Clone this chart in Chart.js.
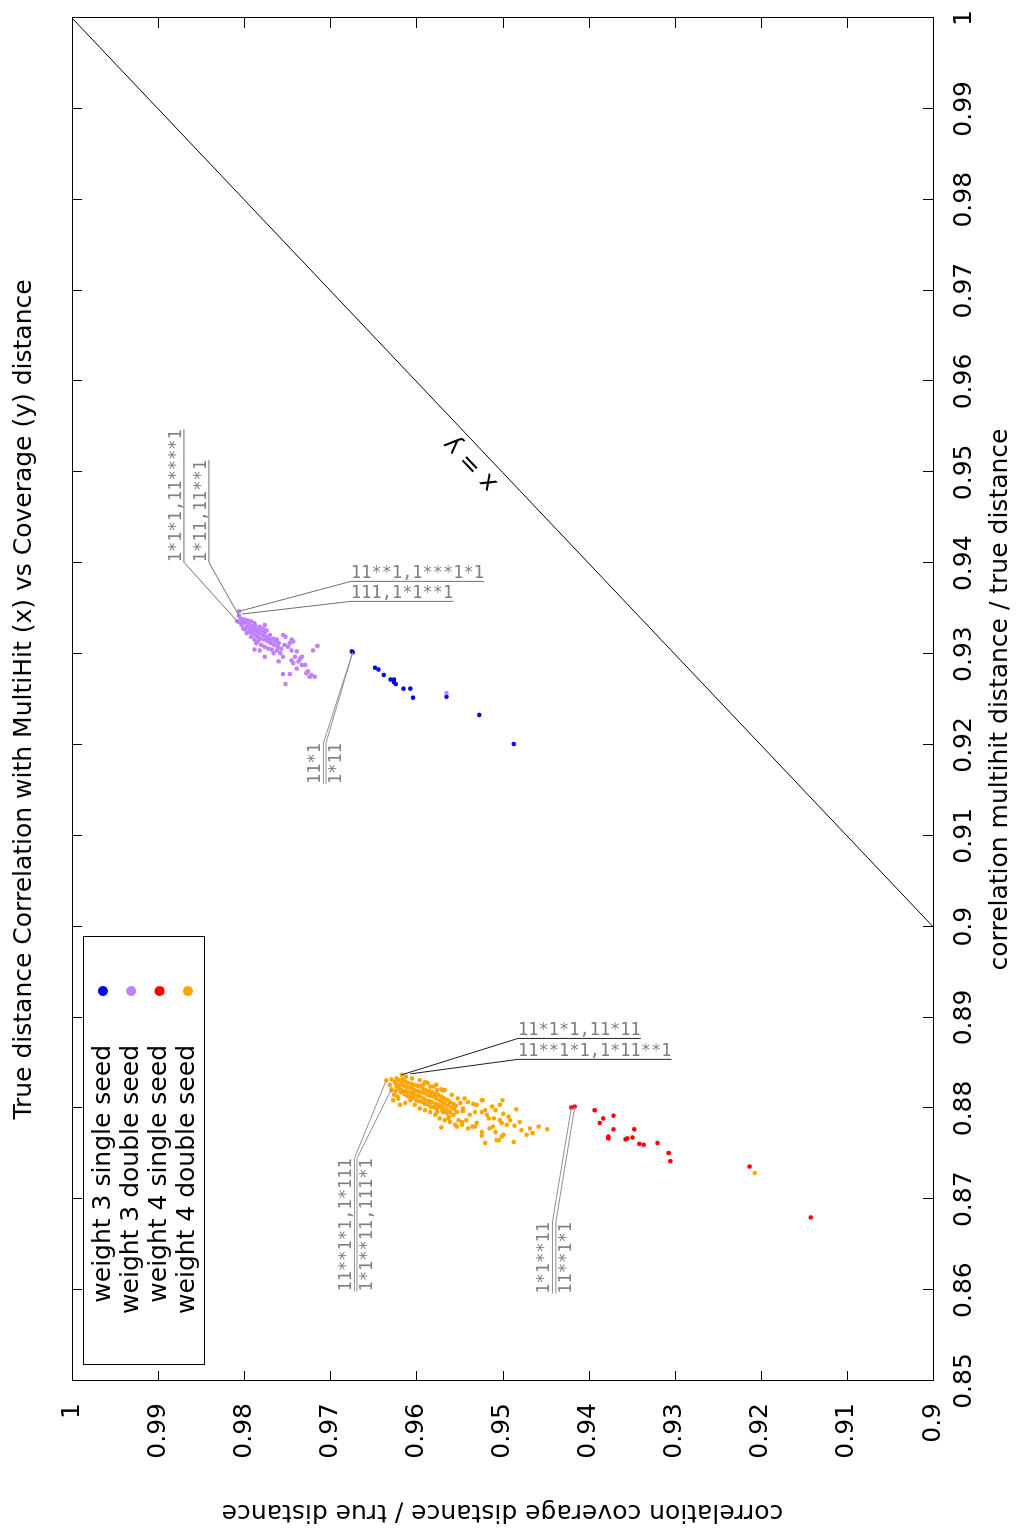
<!DOCTYPE html>
<html>
<head>
<meta charset="utf-8">
<script src="https://cdn.jsdelivr.net/npm/chart.js@4.4.1/dist/chart.umd.min.js"></script>
<style>
html, body { margin: 0; padding: 0; overflow: hidden; background: #fff; width: 1018px; height: 1528px; }
/* the plot is drawn landscape and turned a quarter turn, like the reference */
#wrap { position: absolute; left: 0; top: 0; width: 1528px; height: 1018px;
        transform-origin: 0 0; transform: translateY(1528px) rotate(-90deg); }
</style>
</head>
<body>
<div id="wrap"><canvas id="myChart" width="1528" height="1018"></canvas></div>
<script>
// series: [multihit ratio (x), coverage ratio (y)]
const w3Single = [
  [0.9302,0.9674],[0.9303,0.9675],[0.9285,0.9648],[0.9283,0.9644],[0.9277,0.9638],[0.9272,0.9630],
  [0.9272,0.9626],[0.9269,0.9626],[0.9267,0.9624],[0.9262,0.9615],[0.9262,0.9607],[0.9252,0.9604],
  [0.9253,0.9565],[0.9233,0.9527],[0.9201,0.9487]
];
const w3Double = [
  [0.9347,0.9806],[0.9342,0.9806],[0.9336,0.9808],[0.9339,0.9804],[0.9337,0.9802],[0.9334,0.9801],
  [0.9338,0.9800],[0.9335,0.9798],[0.9332,0.9803],[0.9330,0.9797],[0.9327,0.9799],[0.9333,0.9795],
  [0.9328,0.9793],[0.9325,0.9794],[0.9331,0.9791],[0.9327,0.9789],[0.9323,0.9791],[0.9334,0.9788],
  [0.9328,0.9788],[0.9325,0.9786],[0.9321,0.9787],[0.9327,0.9784],[0.9319,0.9784],[0.9323,0.9782],
  [0.9317,0.9781],[0.9326,0.9780],[0.9321,0.9778],[0.9316,0.9777],[0.9324,0.9776],[0.9319,0.9774],
  [0.9314,0.9773],[0.9317,0.9772],[0.9321,0.9770],[0.9312,0.9769],[0.9316,0.9768],[0.9317,0.9766],
  [0.9310,0.9765],[0.9314,0.9764],[0.9316,0.9762],[0.9308,0.9761],[0.9312,0.9760],[0.9314,0.9784],
  [0.9316,0.9788],[0.9310,0.9780],[0.9308,0.9776],[0.9306,0.9772],[0.9323,0.9797],[0.9319,0.9792],
  [0.9312,0.9786],[0.9328,0.9801],[0.9335,0.9805],[0.9337,0.9796],[0.9336,0.9792],[0.9331,0.9787],
  [0.9330,0.9782],[0.9328,0.9778],[0.9326,0.9774],[0.9332,0.9776],
  [0.9321,0.9755],[0.9319,0.9752],[0.9316,0.9745],[0.9312,0.9747],[0.9310,0.9753],[0.9314,0.9743],
  [0.9308,0.9749],[0.9304,0.9762],[0.9301,0.9766],[0.9301,0.9758],[0.9297,0.9755],[0.9292,0.9760],
  [0.9297,0.9776],[0.9305,0.9788],[0.9304,0.9782],[0.9304,0.9745],[0.9303,0.9739],[0.9297,0.9741],
  [0.9295,0.9735],[0.9293,0.9745],[0.9290,0.9743],[0.9292,0.9737],[0.9288,0.9733],[0.9284,0.9739],
  [0.9288,0.9729],[0.9281,0.9726],[0.9279,0.9728],[0.9277,0.9722],[0.9275,0.9718],[0.9275,0.9724],
  [0.9304,0.9720],[0.9309,0.9715],[0.9278,0.9755],[0.9278,0.9747],[0.9267,0.9752],[0.9297,0.9733],
  [0.9306,0.9757],[0.9305,0.9768],[0.9257,0.9565]
];
const w4Single = [
  [0.8801,0.9420],[0.8802,0.9416],[0.8798,0.9393],[0.8789,0.9383],[0.8784,0.9387],[0.8792,0.9371],
  [0.8777,0.9371],[0.8769,0.9377],[0.8767,0.9377],[0.8777,0.9347],[0.8768,0.9349],[0.8767,0.9355],
  [0.8766,0.9357],[0.8761,0.9341],[0.8760,0.9336],[0.8762,0.9320],[0.8751,0.9307],[0.8742,0.9305],
  [0.8736,0.9213],[0.8680,0.9142]
];
const w4Double = [
  [0.8831,0.9635],[0.8832,0.9629],[0.8829,0.9625],[0.8837,0.9617],[0.8835,0.9612],[0.8821,0.9629],
  [0.8815,0.9626],[0.8811,0.9621],[0.8826,0.9631],[0.8833,0.9623],[0.8832,0.9616],
  [0.8828,0.9624],[0.8824,0.9623],[0.8819,0.9624],[0.8831,0.9620],[0.8826,0.9619],[0.8822,0.9620],
  [0.8818,0.9618],[0.8829,0.9617],[0.8825,0.9615],[0.8820,0.9617],[0.8816,0.9614],[0.8830,0.9613],
  [0.8824,0.9612],[0.8819,0.9613],[0.8814,0.9611],[0.8828,0.9610],[0.8823,0.9609],[0.8818,0.9610],
  [0.8813,0.9607],[0.8827,0.9606],[0.8822,0.9605],[0.8817,0.9606],[0.8812,0.9604],[0.8826,0.9603],
  [0.8820,0.9602],[0.8816,0.9603],[0.8809,0.9600],[0.8825,0.9599],[0.8819,0.9598],[0.8814,0.9599],
  [0.8808,0.9597],[0.8824,0.9596],[0.8818,0.9595],[0.8813,0.9596],[0.8807,0.9593],[0.8821,0.9592],
  [0.8817,0.9591],[0.8811,0.9592],[0.8805,0.9590],[0.8820,0.9589],[0.8815,0.9587],[0.8809,0.9589],
  [0.8804,0.9586],[0.8819,0.9585],[0.8814,0.9584],[0.8808,0.9585],[0.8802,0.9583],[0.8818,0.9582],
  [0.8813,0.9580],[0.8807,0.9582],[0.8801,0.9579],[0.8816,0.9578],[0.8811,0.9577],[0.8805,0.9578],
  [0.8800,0.9576],[0.8815,0.9575],[0.8809,0.9573],[0.8804,0.9575],[0.8813,0.9571],[0.8807,0.9570],
  [0.8802,0.9571],[0.8796,0.9569],[0.8811,0.9568],[0.8805,0.9567],[0.8800,0.9568],[0.8809,0.9564],
  [0.8803,0.9563],[0.8798,0.9564],[0.8807,0.9561],[0.8801,0.9559],[0.8796,0.9561],[0.8805,0.9557],
  [0.8799,0.9556],[0.8793,0.9557],[0.8803,0.9554],[0.8796,0.9553],
  [0.8820,0.9576],[0.8821,0.9571],[0.8826,0.9592],[0.8824,0.9584],[0.8820,0.9569],[0.8825,0.9594],
  [0.8824,0.9580],[0.8809,0.9627],[0.8813,0.9622],[0.8820,0.9629],[0.8782,0.9555],[0.8785,0.9547],
  [0.8791,0.9562],[0.8795,0.9565],[0.8798,0.9570],[0.8796,0.9576],[0.8802,0.9572],
  [0.8809,0.9607],[0.8804,0.9602],[0.8800,0.9596],[0.8798,0.9590],[0.8806,0.9613],[0.8796,0.9584],
  [0.8793,0.9578],[0.8789,0.9573],[0.8787,0.9567],[0.8785,0.9561],[0.8831,0.9596],[0.8828,0.9587],
  [0.8826,0.9577],[0.8820,0.9567],[0.8815,0.9559],[0.8811,0.9552],[0.8804,0.9619],[0.8833,0.9605],
  [0.8829,0.9590],[0.8789,0.9563],
  [0.8779,0.9571],[0.8806,0.9549],[0.8800,0.9546],[0.8811,0.9544],[0.8807,0.9540],[0.8805,0.9534],
  [0.8787,0.9542],[0.8793,0.9538],[0.8796,0.9532],[0.8804,0.9530],[0.8796,0.9524],[0.8798,0.9520],
  [0.8793,0.9518],[0.8789,0.9516],[0.8789,0.9510],[0.8802,0.9512],[0.8798,0.9508],[0.8809,0.9523],
  [0.8804,0.9503],[0.8809,0.9500],[0.8799,0.9484],[0.8794,0.9499],[0.8791,0.9493],[0.8785,0.9480],
  [0.8787,0.9491],[0.8787,0.9503],[0.8784,0.9501],[0.8782,0.9495],[0.8781,0.9486],[0.8776,0.9478],
  [0.8778,0.9468],[0.8773,0.9465],[0.8771,0.9472],[0.8780,0.9458],[0.8777,0.9448],[0.8763,0.9487],
  [0.8771,0.9499],[0.8769,0.9501],[0.8765,0.9507],[0.8762,0.9520],[0.8770,0.9524],[0.8774,0.9524],
  [0.8780,0.9532],[0.8780,0.9535],[0.8784,0.9530],[0.8778,0.9515],[0.8780,0.9511],[0.8774,0.9508],
  [0.8797,0.9546],[0.8787,0.9551],[0.8782,0.9547],[0.8780,0.9553],[0.8778,0.9540],[0.8765,0.9504],
  [0.8809,0.9524],[0.8729,0.9207]
];
const seriesNames = ['weight 3 single seed', 'weight 3 double seed', 'weight 4 single seed', 'weight 4 double seed'];
const seriesColors = ['#0000ff', '#c080ff', '#ff0000', '#ffa500'];
const diagonal = [[0.9, 0.9], [1, 1]];

// seed labels: text, the point it names, where its underline starts
const noteTexts = ['1*1*1,11****1', '1*11,11**1', '11**1,1***1*1', '111,1*1**1', '11*1', '1*11',
  '11**1*1,1*111', '1*1**11,111*1', '1*1**11', '11**1*1', '11*1*1,11*11', '11**1*1,1*11**1'];
const noteTargets = [[0.9336,0.9808],[0.9342,0.9806],[0.9347,0.9806],[0.9344,0.9803],[0.9302,0.9674],[0.9302,0.9674],
  [0.8831,0.9635],[0.8821,0.9629],[0.8801,0.9420],[0.8802,0.9416],[0.8837,0.9617],[0.8838,0.9607]];
const noteAnchors = [[0.9401,0.9870],[0.9401,0.9841],[0.9380,0.9676],[0.9358,0.9676],[0.9202,0.9708],[0.9202,0.9705],
  [0.8745,0.9672],[0.8745,0.9669],[0.8675,0.9442],[0.8675,0.9438],[0.8877,0.9482],[0.8854,0.9482]];
// how each label sits: along (h) or across (v), which way it runs, which side of its line
const noteStyles = [
  {dir:'h', run:1, side:'above', line:'#707070'}, {dir:'h', run:1, side:'above', line:'#707070'},
  {dir:'v', run:1, side:'above', line:'#707070'}, {dir:'v', run:1, side:'above', line:'#707070'},
  {dir:'h', run:-1, side:'above', line:'#909090'}, {dir:'h', run:-1, side:'below', line:'#909090'},
  {dir:'h', run:-1, side:'above', line:'#909090'}, {dir:'h', run:-1, side:'below', line:'#909090'},
  {dir:'h', run:-1, side:'above', line:'#909090'}, {dir:'h', run:-1, side:'below', line:'#909090'},
  {dir:'v', run:1, side:'above', line:'#202020'}, {dir:'v', run:1, side:'above', line:'#202020'}
];

const toPts = arr => arr.map(p => ({x: p[0], y: p[1]}));
const fmt = v => String(Math.round(v * 100) / 100);

// gnuplot style frame with inward ticks on all four sides
const frame = {
  id: 'frame',
  afterDatasetsDraw(chart) {
    const {ctx, chartArea: a, scales: {x, y}} = chart;
    ctx.save();
    ctx.strokeStyle = '#000';
    ctx.lineWidth = 1;
    ctx.beginPath();
    x.ticks.forEach(t => {
      const px = Math.round(x.getPixelForValue(t.value)) + 0.5;
      ctx.moveTo(px, a.bottom); ctx.lineTo(px, a.bottom - 10);
      ctx.moveTo(px, a.top); ctx.lineTo(px, a.top + 10);
    });
    y.ticks.forEach(t => {
      const py = Math.round(y.getPixelForValue(t.value)) + 0.5;
      ctx.moveTo(a.left, py); ctx.lineTo(a.left + 10, py);
      ctx.moveTo(a.right, py); ctx.lineTo(a.right - 10, py);
    });
    ctx.stroke();
    ctx.strokeRect(Math.round(a.left) + 0.5, Math.round(a.top) + 0.5,
                   Math.round(a.right - a.left), Math.round(a.bottom - a.top));
    ctx.restore();
  }
};

// seed labels with their leader lines
const notes = {
  id: 'notes',
  afterDatasetsDraw(chart) {
    const {ctx, scales: {x, y}} = chart;
    ctx.save();
    ctx.font = '17px "DejaVu Sans Mono"';
    ctx.lineWidth = 1;
    noteTexts.forEach((txt, i) => {
      const s = noteStyles[i];
      const px = x.getPixelForValue(noteTargets[i][0]), py = y.getPixelForValue(noteTargets[i][1]);
      const ax = x.getPixelForValue(noteAnchors[i][0]), ay = y.getPixelForValue(noteAnchors[i][1]);
      const w = ctx.measureText(txt).width;
      ctx.strokeStyle = s.line;
      ctx.beginPath();
      ctx.moveTo(px, py);
      ctx.lineTo(ax, ay);
      if (s.dir === 'h') ctx.lineTo(ax + s.run * w, ay);
      else ctx.lineTo(ax, ay + s.run * w);
      ctx.stroke();
      ctx.fillStyle = '#808080';
      ctx.save();
      ctx.translate(ax, ay);
      if (s.dir === 'v') ctx.rotate(Math.PI / 2);
      ctx.textAlign = s.run > 0 ? 'left' : 'right';
      if (s.side === 'above') { ctx.textBaseline = 'alphabetic'; ctx.fillText(txt, 0, -3); }
      else { ctx.textBaseline = 'top'; ctx.fillText(txt, 0, 2); }
      ctx.restore();
    });
    // label on the diagonal
    const x0 = x.getPixelForValue(0.9), y0 = y.getPixelForValue(0.9);
    const x1 = x.getPixelForValue(1), y1 = y.getPixelForValue(1);
    ctx.save();
    ctx.translate(x.getPixelForValue(0.9510), y.getPixelForValue(0.9537));
    ctx.rotate(Math.atan2(y1 - y0, x1 - x0));
    ctx.font = '25px "DejaVu Sans"';
    ctx.fillStyle = '#000';
    ctx.textAlign = 'center';
    ctx.textBaseline = 'middle';
    ctx.fillText('x = y', 0, 0);
    ctx.restore();
    ctx.restore();
  }
};

// key box in the top left corner, text right of the sample like gnuplot
const keyBox = {
  id: 'keyBox',
  afterDraw(chart) {
    const {ctx, chartArea: a} = chart;
    const items = chart.data.datasets.filter(d => d.label);
    const left = Math.round(a.left) + 16, top = Math.round(a.top) + 11;
    ctx.save();
    ctx.strokeStyle = '#000';
    ctx.lineWidth = 1;
    ctx.strokeRect(left + 0.5, top + 0.5, 428, 121);
    ctx.font = '25px "DejaVu Sans"';
    ctx.textAlign = 'right';
    ctx.textBaseline = 'middle';
    items.forEach((d, i) => {
      const cy = top + 20 + i * 28.3;
      ctx.fillStyle = '#000';
      ctx.fillText(d.label, left + 320, cy);
      ctx.beginPath();
      ctx.arc(left + 374, cy, 5, 0, Math.PI * 2);
      ctx.fillStyle = d.backgroundColor;
      ctx.fill();
    });
    ctx.restore();
  }
};

Chart.defaults.font.family = '"DejaVu Sans"';
Chart.defaults.color = '#000';

const pointSets = [w3Single, w3Double, w4Single, w4Double].map((arr, i) => ({
  type: 'scatter',
  label: seriesNames[i],
  data: toPts(arr),
  backgroundColor: seriesColors[i],
  borderWidth: 0,
  pointRadius: 2.3,
  pointHoverRadius: 2.3,
  order: 4 - i
}));

new Chart(document.getElementById('myChart'), {
  type: 'scatter',
  data: {
    datasets: pointSets.concat([{
      type: 'line',
      data: toPts(diagonal),
      borderColor: '#000',
      borderWidth: 1,
      pointRadius: 0,
      fill: false,
      order: 5
    }])
  },
  options: {
    responsive: false,
    animation: false,
    events: [],
    layout: { padding: { right: 18 } },
    scales: {
      x: {
        type: 'linear', min: 0.85, max: 1,
        afterFit: s => { s.height = 85; },
        grid: { display: false }, border: { display: false },
        ticks: { stepSize: 0.01, autoSkip: false, maxRotation: 0, padding: 8,
                 font: { size: 25 }, callback: fmt },
        title: { display: true, text: 'correlation multihit distance / true distance',
                 font: { size: 25 }, padding: { top: 0, bottom: 3 } }
      },
      y: {
        type: 'linear', min: 0.9, max: 1,
        afterFit: s => { s.width = 147; },
        grid: { display: false }, border: { display: false },
        ticks: { stepSize: 0.01, autoSkip: false, padding: 14, font: { size: 25 }, callback: fmt },
        title: { display: true, text: 'correlation coverage distance / true distance',
                 font: { size: 25 }, padding: { top: 1, bottom: 0 } }
      }
    },
    plugins: {
      legend: { display: false },
      tooltip: { enabled: false },
      title: {
        display: true, fullSize: false,
        text: 'True distance Correlation with MultiHit (x) vs Coverage (y) distance',
        font: { size: 25, weight: 'normal' }, color: '#000',
        padding: { top: 9, bottom: 33 }
      }
    }
  },
  plugins: [frame, notes, keyBox]
});
</script>
</body>
</html>
